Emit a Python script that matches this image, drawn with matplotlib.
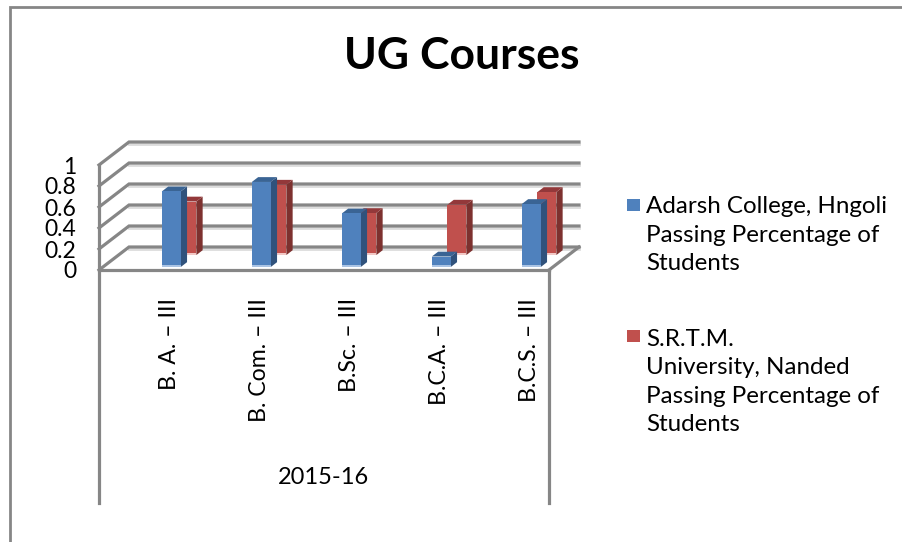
import matplotlib
matplotlib.use('Agg')
import matplotlib.pyplot as plt
from matplotlib.lines import Line2D
from matplotlib.patches import Polygon, Rectangle

plt.rcParams['font.family'] = ['Lato', 'DejaVu Sans']

categories = ['B. A. – III', 'B. Com. – III', 'B.Sc. – III', 'B.C.A. – III', 'B.C.S. – III']
adarsh = [0.72, 0.81, 0.51, 0.10, 0.60]
srtm = [0.51, 0.67, 0.40, 0.48, 0.60]
y_ticks = [0, 0.2, 0.4, 0.6, 0.8, 1]
y_labels = ['0', '0.2', '0.4', '0.6', '0.8', '1']
group_label = '2015-16'
title = 'UG Courses'
legend_1 = 'Adarsh College, Hngoli\nPassing Percentage of\nStudents'
legend_2 = 'S.R.T.M.\nUniversity, Nanded\nPassing Percentage of\nStudents'

W, H = 903, 542
GRID = '#868686'
# how far one unit of depth moves a point, in category / value units
DX = 30 / 90
DY = 23 / 105


def proj(x, y, z):
    return (x + z * DX, y + z * DY)


def draw_bar(ax, x, w, v, z0, dz, front, side, top, base):
    pts_front = [proj(x, 0, z0), proj(x + w, 0, z0), proj(x + w, v, z0), proj(x, v, z0)]
    pts_side = [proj(x + w, 0, z0), proj(x + w, 0, z0 + dz), proj(x + w, v, z0 + dz), proj(x + w, v, z0)]
    pts_top = [proj(x, v, z0), proj(x + w, v, z0), proj(x + w, v, z0 + dz), proj(x, v, z0 + dz)]
    ax.add_patch(Polygon(pts_side, fc=side, ec='none', zorder=3, clip_on=False))
    ax.add_patch(Polygon(pts_top, fc=top, ec='none', zorder=3, clip_on=False))
    ax.add_patch(Polygon(pts_front, fc=front, ec='none', zorder=3, clip_on=False))
    # pale strip at the foot of the bar
    strip = [proj(x, 0, z0), proj(x + w, 0, z0), proj(x + w, 0.015, z0), proj(x, 0.015, z0)]
    ax.add_patch(Polygon(strip, fc=base, ec='none', zorder=3, clip_on=False))


fig = plt.figure(figsize=(W / 100, H / 100), dpi=100)
ax = fig.add_axes([99 / W, 1 - 270 / H, 450 / W, 105 / H])
ax.set_xlim(0, 5)
ax.set_ylim(0, 1)
for s in ax.spines.values():
    s.set_visible(False)

# walls
for v in y_ticks:
    a = proj(0, v, 0)
    b = proj(0, v, 1)
    c = proj(5, v, 1)
    ax.plot([b[0], c[0]], [b[1] - 0.018, c[1] - 0.018], color='#dcdcdc', lw=2, zorder=1, clip_on=False)
    ax.plot([a[0], b[0], c[0]], [a[1], b[1], c[1]], color=GRID, lw=2.3, zorder=2, clip_on=False,
            solid_joinstyle='miter')
a = proj(5, 0, 0)
b = proj(5, 0, 1)
ax.plot([a[0], b[0]], [a[1], b[1]], color=GRID, lw=2.3, zorder=2, clip_on=False)

# front axis and the long category dividers
ax.plot([0, 5], [0, 0], color=GRID, lw=2.3, zorder=4, clip_on=False)
ax.plot([0, 0], [-2.22, 1], color=GRID, lw=2.3, zorder=2, clip_on=False)
ax.plot([5, 5], [-2.22, 0], color=GRID, lw=2.3, zorder=2, clip_on=False)

for i in range(len(categories)):
    draw_bar(ax, i + 0.655, 0.21, srtm[i], 0.65, 0.21, '#C0504D', '#7D312F', '#93383A', '#F2C9C7')
    draw_bar(ax, i + 0.655, 0.21, adarsh[i], 0.13, 0.21, '#4F81BD', '#30527C', '#3A6494', '#A9C3E4')

ax.set_yticks(y_ticks)
ax.set_yticklabels(y_labels, fontsize=16.5, color='black')
ax.set_xticks([i + 0.78 for i in range(len(categories))])
ax.set_xticklabels(categories, rotation=90, fontsize=16.7, color='black', va='top', ha='center')
ax.tick_params(axis='y', length=0, pad=16.5)
ax.tick_params(axis='x', length=0, pad=20)

ax.text(2.49, -1.98, group_label, fontsize=17, ha='center', va='center', clip_on=False)

fig.text(462 / W, 1 - 56 / H, title, fontsize=32, fontweight='bold', ha='center', va='center')

# legend
fig.add_artist(Rectangle((627 / W, 1 - 211 / H), 13 / W, 12 / H, fc='#4F81BD', ec='none',
                         transform=fig.transFigure))
fig.add_artist(Rectangle((627 / W, 1 - 342 / H), 13 / W, 12 / H, fc='#C0504D', ec='none',
                         transform=fig.transFigure))
fig.text(646 / W, 1 - 235 / H, legend_1, fontsize=17.4, ha='left', va='center', linespacing=1.45)
fig.text(646 / W, 1 - 382 / H, legend_2, fontsize=17.4, ha='left', va='center', linespacing=1.45)

# outer chart border
fig.add_artist(Line2D([10.5 / W, 10.5 / W, 1], [0, 1 - 7 / H, 1 - 7 / H], color=GRID, lw=2,
                      transform=fig.transFigure, solid_joinstyle='miter'))

fig.savefig('out.png', dpi=100)
